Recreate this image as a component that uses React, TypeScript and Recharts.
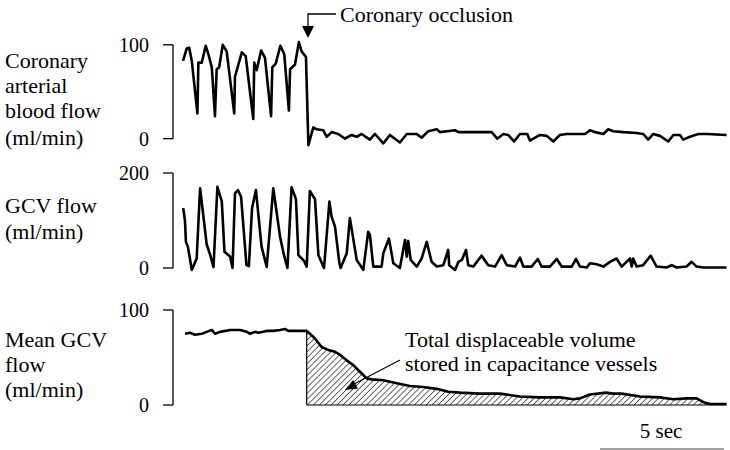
import { Area, ComposedChart, Line, ReferenceLine, XAxis, YAxis } from "recharts";

const FONT = '"Liberation Serif", "Times New Roman", Times, serif';

// time in seconds, value in ml/min
const coronaryFlow: [number, number][] = [
  [0.0, 83], [0.15, 96], [0.25, 97], [0.36, 83], [0.59, 27], [0.63, 81], [0.77, 81],
  [0.93, 99], [1.04, 90], [1.18, 76], [1.31, 24], [1.38, 74], [1.48, 76], [1.63, 100],
  [1.79, 93], [2.1, 27], [2.13, 66], [2.41, 92], [2.57, 88], [2.88, 21], [2.92, 81],
  [3.02, 73], [3.2, 94], [3.36, 86], [3.61, 24], [3.66, 76], [3.8, 80], [3.99, 99],
  [4.15, 90], [4.34, 30], [4.39, 74], [4.59, 79], [4.75, 103], [4.86, 93], [5.04, 87],
  [5.14, -7], [5.34, 12], [5.48, 10], [5.75, 9], [5.89, 2], [6.09, 7], [6.36, 5],
  [6.64, 0], [6.91, 4], [7.12, 2], [7.32, 5], [7.66, -1], [7.87, 5], [8.21, -5],
  [8.48, 4], [8.89, -4], [9.17, 5], [9.58, 5], [9.78, 1], [10.05, 8], [10.4, 10],
  [10.53, 7], [11.15, 9], [11.29, 7], [12.65, 7], [12.88, 0], [13.13, 5], [13.33, 4],
  [13.57, -3], [13.81, 5], [14.11, 5], [14.22, -2], [14.63, 4], [14.91, 3], [15.18, -3],
  [15.45, 4], [15.73, 5], [16.48, 5], [16.68, 9], [16.89, 7], [17.23, 5], [17.43, 10],
  [17.64, 8], [18.05, 7], [18.59, 6], [18.86, 5], [19.07, -1], [19.27, 5], [19.55, 3],
  [19.89, -3], [20.1, 4], [20.37, 4], [20.5, -1], [20.78, 2], [21.12, 5], [21.46, 5],
  [22.28, 4],
];

const gcvFlow: [number, number][] = [
  [0.01, 126], [0.08, 100], [0.12, 55], [0.2, 45], [0.36, -4], [0.56, 20], [0.7, 168],
  [0.97, 50], [1.11, 28], [1.25, 2], [1.41, 171], [1.59, 140], [1.7, 34], [1.93, 24],
  [2.03, 0], [2.13, 157], [2.25, 164], [2.38, 150], [2.6, 6], [2.7, 4], [2.83, 126],
  [2.99, 164], [3.22, 45], [3.43, 2], [3.7, 168], [3.98, 65], [4.14, 27], [4.28, 0],
  [4.45, 170], [4.63, 145], [4.73, 27], [4.96, 15], [5.07, 3], [5.2, 162], [5.41, 145],
  [5.55, 27], [5.78, 0], [6.0, 140], [6.09, 108], [6.23, 87], [6.41, 10], [6.46, 0],
  [6.71, 31], [6.84, 105], [7.12, 17], [7.39, -4], [7.59, 76], [7.66, 70], [7.8, 3],
  [8.14, 3], [8.21, 31], [8.44, 62], [8.62, 10], [8.89, 0], [9.1, 59], [9.17, 24],
  [9.23, 57], [9.33, 17], [9.58, 3], [9.78, 20], [9.99, 55], [10.19, 13], [10.4, 3],
  [10.67, 6], [10.87, 38], [10.91, 6], [11.15, -4], [11.29, 13], [11.43, 17], [11.6, 38],
  [11.69, 6], [11.9, 3], [12.24, 26], [12.51, 6], [12.79, 3], [13.06, 27], [13.27, 6],
  [13.61, 3], [13.81, 22], [13.95, 3], [14.29, 3], [14.54, 19], [14.7, 3], [15.04, 3],
  [15.32, 19], [15.52, 3], [15.93, 3], [16.11, 19], [16.27, 3], [16.55, 1], [16.68, 10],
  [16.95, 8], [17.23, 3], [17.5, 13], [17.77, 20], [17.98, 3], [18.32, 20], [18.39, 3],
  [18.45, 20], [18.59, 3], [18.86, 6], [19.17, 26], [19.41, 3], [19.82, 1], [20.03, 6],
  [20.23, 1], [20.64, 3], [20.85, 13], [21.05, 3], [21.33, 1], [22.28, 1],
];

const meanGcvFlow: [number, number][] = [
  [0.08, 75], [0.29, 76], [0.49, 74], [0.77, 75], [0.97, 77], [1.18, 79], [1.31, 75],
  [1.52, 77], [1.93, 79], [2.34, 79], [2.61, 77], [2.75, 75], [2.95, 77], [3.09, 76],
  [3.43, 78], [3.7, 78], [3.98, 79], [4.18, 80], [4.32, 78], [4.66, 78], [5.07, 78],
  [5.2, 75], [5.41, 70], [5.68, 61], [5.95, 58], [6.23, 56], [6.43, 53], [6.71, 47],
  [6.98, 42], [7.25, 35], [7.53, 28], [7.73, 27], [8.21, 26], [8.76, 23], [9.3, 20],
  [9.85, 19], [10.4, 17], [10.87, 14], [11.35, 13], [12.17, 12], [12.99, 12], [13.81, 9],
  [14.63, 8], [15.45, 8], [16.0, 6], [16.27, 7], [16.68, 11], [17.34, 13], [17.62, 12],
  [17.98, 12], [18.73, 9], [19.55, 8], [20.1, 6], [20.64, 7], [21.05, 7], [21.33, 3],
  [21.6, 1], [22.28, 1],
];

const timeDomain: [number, number] = [-0.41, 22.42];
const occlusionTime = 5.07;

const coronaryTicks = [0, 100];
const gcvTicks = [0, 200];
const meanTicks = [0, 100];

const coronaryRows = coronaryFlow.map(([t, v]) => ({ t, v }));
const gcvRows = gcvFlow.map(([t, v]) => ({ t, v }));
const meanRows = meanGcvFlow.map(([t, v]) => ({
  t,
  v,
  stored: t >= occlusionTime ? v : null,
}));
const occlusionMean = meanGcvFlow.find(([t]) => t === occlusionTime)![1];
const lastTime = meanGcvFlow[meanGcvFlow.length - 1][0];

type PanelProps = {
  top: number;
  height: number;
  marginTop: number;
  marginBottom: number;
  domain: [number, number];
  ticks: number[];
  data: object[];
  children?: React.ReactNode;
};

function Panel({ top, height, marginTop, marginBottom, domain, ticks, data, children }: PanelProps) {
  return (
    <div style={{ position: "absolute", left: 0, top }}>
      <ComposedChart
        width={730}
        height={height}
        data={data}
        margin={{ top: marginTop, right: 0, bottom: marginBottom, left: 0 }}
      >
        <XAxis type="number" dataKey="t" domain={timeDomain} hide />
        <YAxis
          type="number"
          domain={domain}
          ticks={ticks}
          interval={0}
          width={173}
          axisLine={false}
          tickSize={10}
          tickMargin={14}
          tickLine={{ stroke: "#000", strokeWidth: 1.3 }}
          tick={{ fill: "#000", fontSize: 20, fontFamily: FONT }}
        />
        <ReferenceLine
          segment={[
            { x: timeDomain[0], y: ticks[0] },
            { x: timeDomain[0], y: ticks[1] },
          ]}
          stroke="#000"
          strokeWidth={1.3}
          ifOverflow="visible"
        />
        {children}
        <Line
          type="linear"
          dataKey="v"
          stroke="#000"
          strokeWidth={2.6}
          strokeLinejoin="round"
          dot={false}
          isAnimationActive={false}
        />
      </ComposedChart>
    </div>
  );
}

export default function App() {
  return (
    <div
      style={{
        position: "absolute",
        left: 0,
        top: 0,
        width: 730,
        height: 450,
        background: "#fff",
        overflow: "hidden",
      }}
    >
      <Panel top={0} height={160} marginTop={42} marginBottom={13.8} domain={[-8, 100]} ticks={coronaryTicks} data={coronaryRows} />
      <Panel top={150} height={130} marginTop={23} marginBottom={7.25} domain={[-10, 200]} ticks={gcvTicks} data={gcvRows} />
      <Panel top={290} height={130} marginTop={20} marginBottom={15} domain={[0, 100]} ticks={meanTicks} data={meanRows}>
        <Area
          type="linear"
          dataKey="stored"
          stroke="none"
          fill="url(#hatch)"
          fillOpacity={1}
          baseValue={0}
          isAnimationActive={false}
        />
        <ReferenceLine
          segment={[
            { x: occlusionTime, y: 0 },
            { x: occlusionTime, y: occlusionMean },
          ]}
          stroke="#000"
          strokeWidth={1.2}
        />
        <ReferenceLine
          segment={[
            { x: occlusionTime, y: 0 },
            { x: lastTime, y: 0 },
          ]}
          stroke="#000"
          strokeWidth={1.2}
        />
      </Panel>

      <svg
        width={730}
        height={450}
        style={{ position: "absolute", left: 0, top: 0, pointerEvents: "none" }}
        fontFamily={FONT}
        fontSize={22}
        fill="#000"
      >
        <defs>
          <pattern id="hatch" width="4.2" height="4.2" patternUnits="userSpaceOnUse" patternTransform="rotate(45)">
            <line x1="0" y1="0" x2="0" y2="4.2" stroke="#000" strokeWidth="1.2" />
          </pattern>
        </defs>

        <text x={5} y={68}>Coronary</text>
        <text x={5} y={93}>arterial</text>
        <text x={5} y={118}>blood flow</text>
        <text x={5} y={145}>(ml/min)</text>

        <text x={5} y={213}>GCV flow</text>
        <text x={5} y={239}>(ml/min)</text>

        <text x={5} y={347}>Mean GCV</text>
        <text x={5} y={372}>flow</text>
        <text x={5} y={397}>(ml/min)</text>

        {/* occlusion marker */}
        <polyline points="336,14 308,14 308,28" fill="none" stroke="#000" strokeWidth={1.3} />
        <polygon points="302,26 314,26 308,38" fill="#000" />
        <text x={340} y={22}>Coronary occlusion</text>

        {/* stored volume callout */}
        <text x={405} y={347}>Total displaceable volume</text>
        <text x={405} y={371}>stored in capacitance vessels</text>
        <line x1={400} y1={360} x2={354} y2={384} stroke="#000" strokeWidth={1.2} />
        <polygon points="345,390 357.9,388.6 353.1,379.9" fill="#000" />

        {/* time scale */}
        <text x={661} y={438} fontSize={21} textAnchor="middle">5 sec</text>
        <line x1={600} y1={449} x2={724} y2={449} stroke="#444" strokeWidth={1} />
      </svg>
    </div>
  );
}
